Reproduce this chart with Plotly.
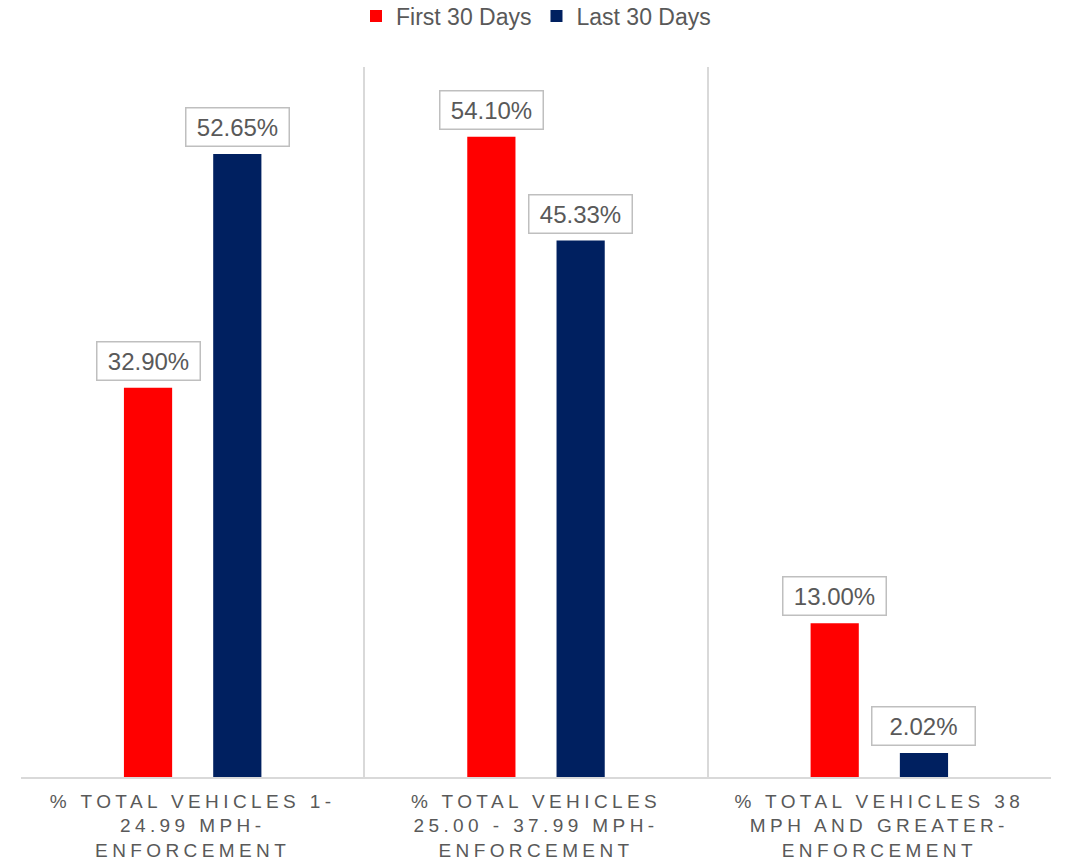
import plotly.graph_objects as go

category_lines = [
    ["% TOTAL VEHICLES 1-", "24.99 MPH-", "ENFORCEMENT"],
    ["% TOTAL VEHICLES", "25.00 - 37.99 MPH-", "ENFORCEMENT"],
    ["% TOTAL VEHICLES 38", "MPH AND GREATER-", "ENFORCEMENT"],
]
categories = ["<br>".join(lines) for lines in category_lines]
tick_labels = ["<br>".join(f'<span style="letter-spacing:4.4px">{ln}</span>' for ln in lines)
               for lines in category_lines]
series_names = ["First 30 Days", "Last 30 Days"]
first_30 = [32.90, 54.10, 13.00]
last_30 = [52.65, 45.33, 2.02]
colors = ["#FF0000", "#002060"]

fig = go.Figure()
for name, vals, col in zip(series_names, [first_30, last_30], colors):
    fig.add_trace(go.Bar(name=name, x=categories, y=vals, marker_color=col,
                         marker_line_width=0, hoverinfo="x+y"))

annotations = []
for s, vals in enumerate([first_30, last_30]):
    off = -0.13 if s == 0 else 0.13
    for i, v in enumerate(vals):
        annotations.append(dict(
            x=i + off, y=v, xref="x", yref="y", text=f"{v:.2f}%",
            showarrow=False, yanchor="bottom", yshift=7,
            font=dict(family="Liberation Sans, Arial", size=24, color="#595959"),
            bgcolor="white", bordercolor="#BFBFBF", borderwidth=1.5, borderpad=3,
            width=96, height=31,
        ))

fig.update_layout(
    width=1066, height=863,
    margin=dict(l=21, r=15, t=67, b=86),
    paper_bgcolor="white", plot_bgcolor="white",
    barmode="group", bargap=0.48, bargroupgap=0.46,
    font=dict(family="Liberation Sans, Arial", color="#595959"),
    legend=dict(orientation="h", x=0.5, xanchor="center", y=0.9815, yref="container",
                yanchor="middle", font=dict(size=23, color="#595959"),
                itemwidth=30, traceorder="normal"),
    annotations=annotations,
    xaxis=dict(type="category", tickson="boundaries", showgrid=True,
               gridcolor="#D9D9D9", gridwidth=1.5, showline=True,
               linecolor="#D9D9D9", linewidth=1.5, ticks="",
               tickmode="array", tickvals=categories, ticktext=tick_labels,
               ticklabelstandoff=6, automargin=False,
               tickfont=dict(size=19, color="#595959"), fixedrange=True),
    yaxis=dict(range=[0, 60], showgrid=False, showticklabels=False,
               zeroline=False, showline=False, fixedrange=True, automargin=False),
)

fig.write_html(
    "out.html",
    config={"displayModeBar": False},
    post_script="document.body.style.margin='0';document.body.style.overflow='hidden';",
)
